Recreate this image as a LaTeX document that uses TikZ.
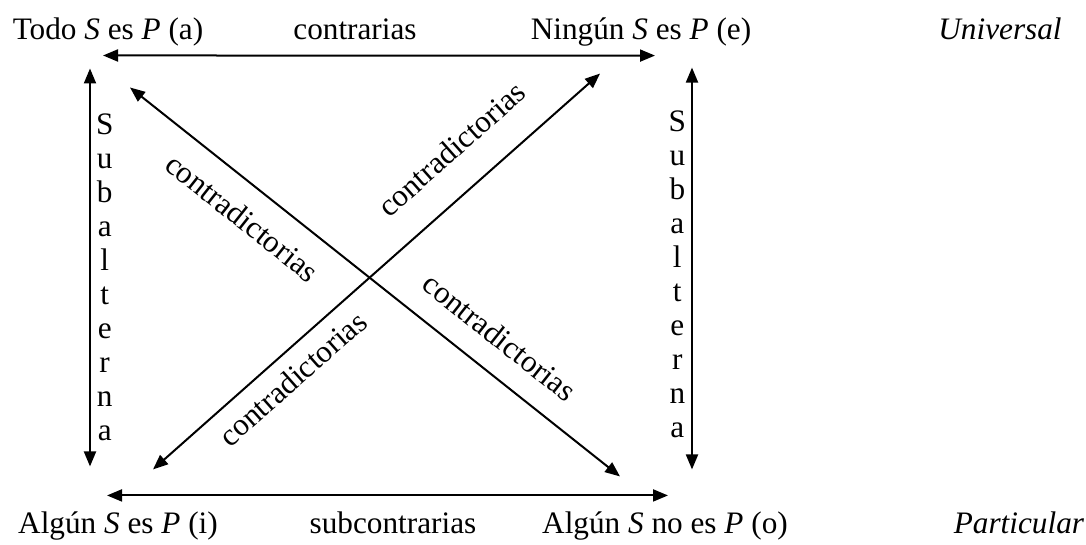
\documentclass[tikz,border=0pt]{standalone}
\usepackage{fontspec}
\setmainfont{Liberation Serif}
\usetikzlibrary{arrows.meta, calc}
\tikzset{
  every picture/.style={font=\fontsize{12.5}{13.6}\selectfont},
  prop/.style={anchor=base},
  dbl/.style={{Triangle[length=6pt,width=4.8pt]}-{Triangle[length=6pt,width=4.8pt]}, line width=0.8pt},
  rel/.style={sloped, inner sep=0pt},
  vert/.style={align=center, inner sep=2pt},
}

\begin{document}
\begin{tikzpicture}[x=0.4pt, y=-0.4pt]
  \useasboundingbox (0,0) rectangle (1086,545);
  % the four propositions
  \node[prop] (a) at (108,40) {Todo \textit{S} es \textit{P} (a)};
  \node[prop] (e) at (641,40) {Ningún \textit{S} es \textit{P} (e)};
  \node[prop] (i) at (118,533) {Algún \textit{S} es \textit{P} (i)};
  \node[prop] (o) at (665,533) {Algún \textit{S} no es \textit{P} (o)};
  % row titles
  \node[prop] (univ) at (1000,40) {\textit{Universal}};
  \node[prop] (part) at (1019,533) {\textit{Particular}};
  \node[prop] (contr) at (355,40) {contrarias};
  \node[prop] (subc) at (393,533) {subcontrarias};

  \draw[dbl] ($(a.south)+(-5,0)$) -- ($(e.south)+(14,0)$);
  \draw[dbl] ($(i.north)+(-11,-7)$) -- ($(o.north)+(3,-7)$);
  \draw[dbl] ($(a.south)+(-18,13)$) -- node[right, vert, pos=0.525]
    {S\\u\\b\\a\\l\\t\\e\\r\\n\\a} ($(i.north)+(-28,-36)$);
  \draw[dbl] ($(e.south)+(51,12)$) -- node[left, vert, pos=0.515]
    {S\\u\\b\\a\\l\\t\\e\\r\\n\\a} ($(o.north)+(27,-33)$);
  % diagonals
  \draw[dbl] ($(a.south)+(22,32)$) --
    node[rel, below=8pt, pos=0.27] {contradictorias}
    node[rel, above=9pt, pos=0.711] {contradictorias} ($(o.north)+(-45,-26)$);
  \draw[dbl] ($(i.north)+(35,-33)$) --
    node[rel, below=5pt, pos=0.276] {contradictorias}
    node[rel, above=12pt, pos=0.73] {contradictorias} ($(e.south)+(-41,18)$);
\end{tikzpicture}
\end{document}
